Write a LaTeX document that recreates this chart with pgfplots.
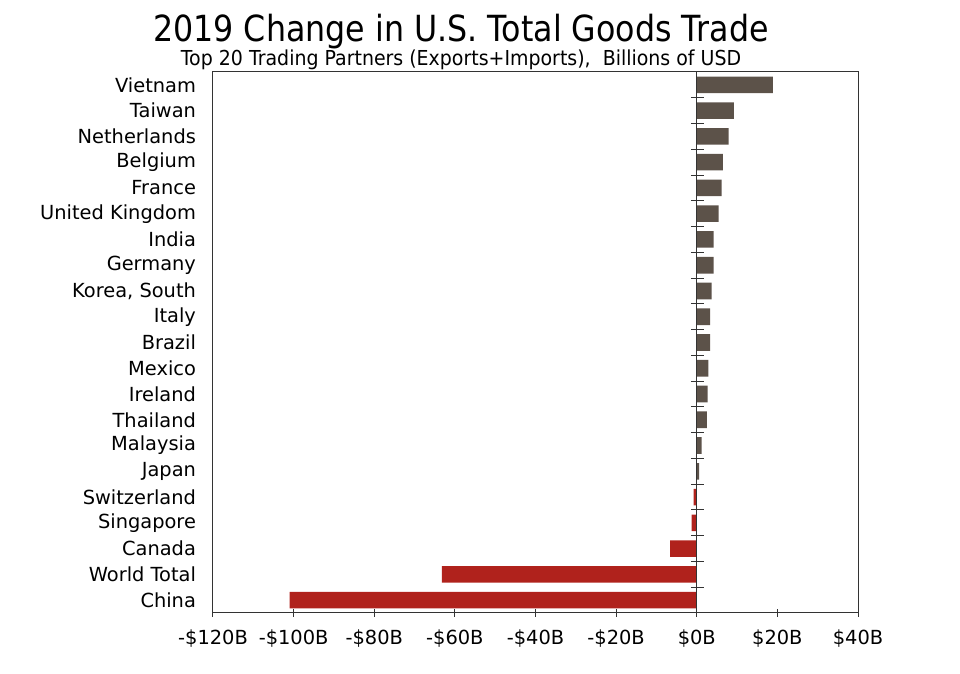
\documentclass[border=0pt]{standalone}
\usepackage{pgfplots}
\pgfplotsset{compat=1.18}
\usepackage{fontspec}
\setmainfont{DejaVu Sans}
\newfontfamily\titlefont[FakeStretch=0.88]{DejaVu Sans}
\newfontfamily\subfont[FakeStretch=0.92]{DejaVu Sans}

\definecolor{posbar}{RGB}{92,82,73}
\definecolor{negbar}{RGB}{176,34,28}

\begin{document}
\begin{tikzpicture}
\path[use as bounding box] (0,0) rectangle (480pt,337pt);
\node[font=\titlefont\fontsize{18}{21}\selectfont] at (230.5pt,321pt) {2019 Change in U.S. Total Goods Trade};
\node[font=\subfont\fontsize{10.3}{12}\selectfont] at (230.5pt,307pt) {Top 20 Trading Partners (Exports+Imports),\ \ Billions of USD};
\begin{axis}[
    at={(106.5pt,30.5pt)}, anchor=south west,
    scale only axis,
    width=322.5pt, height=270.5pt,
    xbar, bar width=8.3pt, bar shift=0pt,
    xmin=-120, xmax=40,
    ymin=-0.5, ymax=20.5,
    xtick={-120,-100,...,40},
    xticklabels={-\$120B,-\$100B,-\$80B,-\$60B,-\$40B,-\$20B,\$0B,\$20B,\$40B},
    xtick pos=bottom, tick align=center,
    major tick length=4pt,
    ytick={0,...,20},
    yticklabels={China,World Total,Canada,Singapore,Switzerland,Japan,Malaysia,Thailand,Ireland,Mexico,Brazil,Italy,{Korea, South},Germany,India,United Kingdom,France,Belgium,Netherlands,Taiwan,Vietnam},
    ytick style={draw=none},
    tick label style={font=\fontsize{9.7}{11}\selectfont},
    yticklabel style={xshift=-3pt},
    xticklabel style={yshift=-3pt},
    axis line style={line width=0.5pt, black!80},
    every tick/.style={black!80, line width=0.5pt},
]
\addplot[fill=posbar, draw=none] coordinates {
    (0.6,5) (1.2,6) (2.5,7) (2.7,8) (2.9,9) (3.3,10) (3.3,11) (3.7,12)
    (4.2,13) (4.2,14) (5.4,15) (6.2,16) (6.5,17) (7.9,18) (9.2,19) (18.9,20)
};
\addplot[fill=negbar, draw=none] coordinates {
    (-101.0,0) (-63.2,1) (-6.6,2) (-1.3,3) (-0.8,4)
};
\draw[black!80, line width=0.5pt] (axis cs:0,-0.5) -- (axis cs:0,20.5);
\pgfplotsinvokeforeach{0,...,19}{
    \draw[black!80, line width=0.5pt] ([xshift=-3pt]axis cs:0,#1+0.5) -- ([xshift=3.5pt]axis cs:0,#1+0.5);
}
\end{axis}
\end{tikzpicture}
\end{document}
